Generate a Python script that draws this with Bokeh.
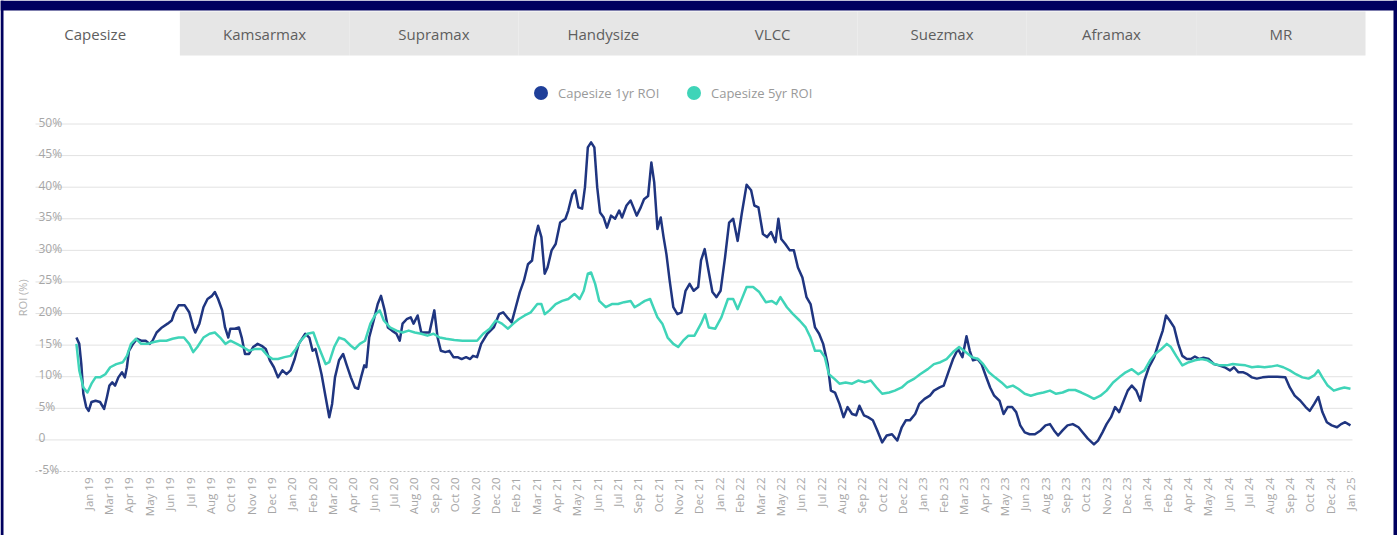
import math
from bokeh.plotting import figure
from bokeh.models import ColumnDataSource, Range1d, Legend, LegendItem
from bokeh.core.properties import value
from bokeh.embed import file_html
from bokeh.resources import INLINE

# ---------------- data ----------------
tabs = ["Capesize", "Kamsarmax", "Supramax", "Handysize", "VLCC", "Suezmax", "Aframax", "MR"]
active_tab = "Capesize"

series_names = ["Capesize 1yr ROI", "Capesize 5yr ROI"]
y_axis_title = "ROI (%)"

# weekly series: x = week number (week 0 = first observation, Jan 2019)
x_tick_labels = [
    "Jan 19", "Mar 19", "Apr 19", "May 19", "Jun 19", "Jul 19", "Aug 19", "Oct 19", "Nov 19", "Dec 19",
    "Jan 20", "Feb 20", "Mar 20", "Apr 20", "Jun 20", "Jul 20", "Aug 20", "Sep 20", "Oct 20", "Nov 20", "Dec 20",
    "Feb 21", "Mar 21", "Apr 21", "May 21", "Jun 21", "Jul 21", "Sep 21", "Oct 21", "Nov 21", "Dec 21",
    "Jan 22", "Feb 22", "Mar 22", "May 22", "Jun 22", "Jul 22", "Aug 22", "Sep 22", "Oct 22", "Dec 22",
    "Jan 23", "Feb 23", "Mar 23", "Apr 23", "May 23", "Jun 23", "Aug 23", "Sep 23", "Oct 23", "Nov 23", "Dec 23",
    "Jan 24", "Feb 24", "Apr 24", "May 24", "Jun 24", "Jul 24", "Aug 24", "Sep 24", "Oct 24", "Dec 24", "Jan 25",
]
first_tick_week = 3
tick_step_weeks = 5

y_ticks = [-5, 0, 5, 10, 15, 20, 25, 30, 35, 40, 45, 50]
y_tick_labels = ["-5%", "0", "5%", "10%", "15%", "20%", "25%", "30%", "35%", "40%", "45%", "50%"]

roi_1yr_week = [
    0.1, 0.8, 1.3, 1.8, 2.5, 3.1, 3.8, 4.8, 5.9, 6.9, 7.6, 8.2, 8.9, 9.6, 10.4, 11.3, 12.0, 12.5, 13.0, 14.0,
    15.0, 16.0, 17.1, 18.1, 18.8, 19.8, 21.1, 22.5, 23.5, 24.2, 25.2, 26.7, 27.8, 28.8, 29.3, 30.3, 31.3, 32.3,
    33.4, 34.1, 34.9, 35.9, 36.6, 37.4, 37.9, 39.0, 40.0, 40.7, 41.5, 42.5, 43.5, 44.6, 45.6, 46.6, 47.6, 48.6,
    49.6, 50.7, 51.7, 52.7, 53.7, 54.7, 56.3, 57.3, 58.1, 58.8, 59.5, 60.3, 61.3, 62.2, 62.9, 63.6, 64.6, 65.6,
    66.4, 67.5, 68.5, 69.3, 70.0, 70.8, 71.3, 72.0, 73.1, 74.1, 74.9, 75.8, 76.6, 77.6, 78.7, 79.5, 80.2, 81.2,
    82.2, 82.9, 83.9, 84.8, 85.8, 86.8, 88.0, 88.8, 89.6, 90.7, 91.7, 92.7, 93.7, 94.7, 95.8, 96.8, 97.5, 98.5,
    99.5, 101.0, 102.6, 103.9, 104.9, 105.9, 107.0, 108.0, 109.0, 110.0, 111.0, 112.0, 112.8, 113.5, 114.3,
    115.1, 115.8, 116.8, 117.8, 118.9, 120.2, 120.9, 121.9, 122.6, 123.4, 124.3, 125.0, 125.7, 126.5, 127.3,
    128.0, 128.7, 129.6, 130.4, 131.4, 132.4, 133.4, 134.1, 135.2, 136.2, 136.9, 137.7, 138.7, 139.5, 140.5,
    141.3, 142.0, 142.8, 143.6, 144.3, 145.0, 145.8, 146.7, 147.7, 148.7, 149.7, 150.7, 151.7, 152.8, 153.5,
    154.4, 155.2, 156.3, 157.3, 158.3, 159.4, 160.4, 161.4, 162.5, 163.5, 164.7, 165.8, 166.6, 167.6, 168.7,
    169.7, 170.7, 171.8, 172.5, 173.2, 174.2, 175.3, 176.3, 177.3, 178.4, 179.4, 180.4, 181.5, 182.5, 183.5,
    184.6, 185.4, 186.4, 187.5, 188.5, 189.5, 190.6, 191.6, 192.4, 193.5, 194.5, 195.7, 196.8, 198.0, 199.1,
    200.4, 201.7, 202.8, 203.8, 204.8, 206.1, 207.1, 208.4, 209.7, 210.7, 212.1, 213.1, 214.4, 215.4, 216.6,
    217.7, 218.7, 219.5, 220.3, 221.4, 222.4, 223.4, 224.5, 225.5, 226.8, 227.8, 228.8, 229.9, 230.9, 231.9,
    233.0, 234.2, 235.5, 236.9, 238.1, 239.2, 240.2, 241.2, 242.3, 243.5, 244.8, 246.2, 247.2, 248.5, 250.0,
    251.0, 252.1, 253.1, 254.2, 255.2, 256.2, 257.3, 258.3, 259.3, 260.4, 261.4, 262.4, 263.5, 264.8, 265.8,
    266.9, 267.7, 268.6, 269.7, 270.7, 271.7, 272.8, 273.8, 274.8, 275.9, 276.9, 278.2, 279.5, 280.7, 282.1,
    283.4, 284.4, 285.5, 286.7, 287.7, 288.8, 290.0, 291.4, 292.9, 295.0, 297.0, 298.1, 299.3, 300.7, 302.0,
    303.0, 304.1, 305.1, 306.1, 307.2, 308.4, 309.7, 310.7, 311.7, 313.0,
]
roi_1yr = [
    16.2, 15.2, 12.0, 7.3, 5.2, 4.6, 6.0, 6.2, 6.0, 4.9, 6.8, 8.6, 9.1, 8.6, 9.9, 10.7, 9.9, 11.5, 14.1, 15.2,
    16.0, 15.7, 15.7, 15.2, 15.7, 17.0, 17.8, 18.4, 18.9, 20.2, 21.3, 21.3, 20.2, 17.8, 17.0, 18.4, 21.0, 22.3,
    22.8, 23.4, 22.3, 20.5, 17.8, 16.2, 17.6, 17.6, 17.8, 16.2, 13.6, 13.6, 14.7, 15.2, 14.9, 14.4, 12.6, 11.5,
    9.9, 11.0, 10.4, 11.0, 12.8, 15.2, 16.8, 16.2, 14.1, 14.4, 12.6, 10.4, 6.8, 3.6, 5.7, 9.9, 12.6, 13.6,
    12.0, 9.9, 8.3, 8.1, 9.9, 11.8, 11.5, 16.2, 18.9, 21.5, 22.8, 20.5, 17.8, 17.3, 16.8, 15.7, 18.4, 19.1,
    19.4, 18.4, 19.7, 17.0, 17.0, 17.0, 20.5, 16.2, 14.1, 13.9, 14.1, 13.1, 13.1, 12.8, 13.1, 12.8, 13.3, 13.1,
    15.2, 16.8, 17.8, 19.9, 20.2, 19.4, 18.6, 21.0, 23.4, 25.2, 27.8, 28.4, 32.1, 33.9, 32.1,
    26.3, 27.3, 30.0, 31.0, 34.4, 35.0, 36.3, 38.9, 39.5, 36.8, 36.6, 40.0, 46.3, 47.1, 46.3,
    40.0, 36.0, 35.2, 33.6, 35.5, 35.0, 36.3, 35.2, 37.1, 37.9, 36.8, 35.5, 36.8, 38.1, 38.6,
    43.9, 40.8, 33.4, 35.2, 32.1, 29.4, 25.2, 21.0, 19.9, 20.2, 23.6, 24.7, 23.6, 24.2, 28.4,
    30.2, 27.3, 23.4, 22.6, 23.6, 28.9, 34.4, 35.0, 31.5, 35.8, 40.4, 39.5, 37.1, 36.8, 32.6,
    32.1, 32.9, 31.3, 35.0, 31.8, 31.0, 30.0, 30.0, 27.3, 25.7, 22.6, 21.5, 17.8, 16.8, 15.2,
    12.0, 7.8, 7.5, 5.7, 3.6, 5.2, 4.1, 3.9, 5.4, 3.9, 3.6, 3.1, 1.5, -0.4, 0.7,
    0.9, -0.1, 2.0, 3.1, 3.1, 4.1, 5.7, 6.5, 7.0, 7.8, 8.3, 8.6, 11.0, 12.8, 14.4,
    13.1, 16.4, 14.1, 12.6, 12.8, 12.0, 10.2, 8.3, 7.0, 6.2, 4.1, 5.2, 5.2, 4.4, 2.3,
    1.2, 0.9, 0.9, 1.5, 2.3, 2.5, 1.5, 0.7, 1.5, 2.3, 2.5, 2.0, 1.2, 0.2, -0.7,
    -0.1, 1.2, 2.5, 3.6, 5.2, 4.4, 6.2, 7.8, 8.6, 7.8, 6.2, 9.4, 11.5, 13.1, 15.2,
    17.3, 19.7, 18.9, 17.8, 15.2, 13.3, 12.8, 12.8, 13.2, 12.8, 13.0, 12.8, 12.0, 11.8, 11.5,
    11.0, 11.5, 10.7, 10.7, 10.4, 9.9, 9.7, 9.9, 10.0, 10.0, 9.9, 8.3, 7.0, 6.2, 5.2,
    4.6, 5.7, 6.8, 4.4, 2.8, 2.3, 2.0, 2.5, 2.8, 2.3,
]

roi_5yr_week = [
    0.1, 0.8, 1.8, 2.8, 3.8, 4.8, 5.9, 7.2, 8.4, 9.9, 11.5, 12.5, 13.5, 14.7, 16.0, 17.6, 19.1, 20.6, 22.2, 23.7,
    25.2, 26.5, 27.8, 28.8, 29.8, 31.3, 32.8, 34.1, 35.4, 36.7, 37.9, 39.5, 41.0, 42.5, 44.0, 45.6, 47.1, 48.3,
    49.6, 51.2, 52.7, 54.0, 55.2, 56.8, 58.3, 59.3, 60.3, 61.3, 62.2, 63.4, 64.6, 65.9, 67.5, 68.5, 69.7, 71.0,
    72.3, 73.6, 74.6, 75.6, 77.1, 78.7, 80.2, 81.7, 83.2, 84.8, 86.3, 87.8, 89.3, 90.9, 92.9, 94.9, 97.0, 98.5,
    100.0, 101.6, 103.1, 104.6, 106.1, 107.4, 108.7, 110.2, 111.7, 113.3, 114.3, 115.1, 116.3, 117.8, 119.4,
    120.9, 122.4, 123.7, 124.7, 125.7, 126.5, 127.5, 128.5, 130.1, 131.6, 133.1, 134.6, 136.2, 137.2, 138.5,
    139.7, 141.0, 141.8, 142.8, 144.0, 145.3, 146.7, 147.9, 149.1, 150.4, 151.9, 153.5, 154.5, 155.4, 157.0,
    158.5, 160.1, 161.4, 162.5, 163.7, 164.7, 166.3, 167.8, 169.4, 170.9, 172.0, 173.0, 174.6, 176.1, 177.7,
    179.2, 180.4, 181.5, 182.8, 183.9, 184.9, 186.2, 187.5, 189.0, 190.6, 192.1, 193.7, 195.2, 196.6, 198.0,
    199.7, 201.1, 202.8, 204.2, 205.9, 207.3, 209.2, 210.7, 212.3, 213.8, 215.4, 216.9, 218.5, 220.0, 221.6,
    222.8, 224.2, 225.7, 227.3, 228.6, 230.1, 231.4, 233.0, 234.5, 236.1, 237.6, 239.2, 240.7, 242.3, 243.8,
    245.4, 246.9, 248.5, 250.0, 251.6, 253.1, 254.7, 256.2, 257.8, 259.3, 260.9, 262.4, 263.8, 265.0, 266.6,
    267.9, 268.9, 270.2, 271.7, 273.3, 274.8, 276.4, 277.9, 279.5, 281.0, 282.6, 284.1, 285.7, 287.2, 288.8,
    290.3, 291.9, 293.4, 295.0, 296.5, 298.1, 299.6, 301.2, 302.7, 304.1, 305.1, 306.1, 307.4, 308.9, 310.3,
    311.5, 313.0,
]
roi_5yr = [
    15.2, 11.0, 8.3, 7.5, 8.9, 9.9, 9.9, 10.4, 11.5, 12.0, 12.3, 13.3, 15.2, 16.0, 15.2, 15.2, 15.5, 15.7, 15.7, 16.0,
    16.2, 16.2, 15.2, 13.9, 14.7, 16.2, 16.8, 17.0, 16.2, 15.2, 15.7, 15.2, 14.7, 14.1, 14.4, 14.4, 13.3, 12.8,
    12.8, 13.1, 13.3, 14.4, 15.7, 16.8, 17.0, 15.2, 13.6, 12.0, 12.3, 14.7, 16.2, 15.9, 14.9, 14.4, 15.2, 15.7,
    18.4, 19.9, 20.5, 18.9, 17.8, 17.3, 17.0, 17.3, 17.0, 16.8, 16.5, 16.8, 16.2, 16.0, 15.8, 15.7, 15.7, 15.7,
    16.8, 17.6, 18.9, 18.4, 17.6, 18.4, 19.1, 19.7, 20.2, 21.5, 21.5, 19.9, 20.5, 21.5, 22.0,
    22.3, 23.1, 22.3, 23.6, 26.3, 26.5, 24.7, 22.0, 21.0, 21.5, 21.5, 21.8, 22.0, 21.0, 21.5,
    22.0, 22.3, 21.0, 19.4, 18.4, 16.2, 15.2, 14.7, 15.7, 16.5, 16.5, 18.4, 19.9, 17.8, 17.6,
    19.4, 22.3, 22.3, 20.7, 22.6, 24.2, 24.2, 23.4, 21.8, 22.0, 21.5, 22.6, 21.0, 19.9, 18.9,
    17.8, 16.2, 14.1, 14.1, 13.1, 10.4, 9.7, 8.9, 9.1, 8.9, 9.4, 9.1, 9.4, 8.3, 7.3,
    7.5, 7.8, 8.3, 9.1, 9.7, 10.4, 11.2, 12.0, 12.3, 12.8, 13.9, 14.7, 13.9, 13.1, 12.8,
    12.0, 10.7, 9.9, 9.1, 8.3, 8.6, 8.1, 7.3, 7.0, 7.3, 7.5, 7.8, 7.3, 7.5, 7.9,
    7.9, 7.5, 7.0, 6.5, 7.0, 7.8, 9.1, 9.9, 10.7, 11.2, 10.4, 11.0, 12.6, 13.6, 14.4,
    15.2, 14.7, 13.3, 11.8, 12.3, 12.6, 12.8, 12.6, 12.0, 11.8, 11.8, 12.0, 11.9, 11.8, 11.5,
    11.6, 11.5, 11.6, 11.8, 11.5, 11.0, 10.4, 9.9, 9.7, 10.2, 11.0, 9.9, 8.6, 7.8, 8.1,
    8.3, 8.1,
]

# ---------------- layout / style constants ----------------
W, H = 1397, 535
CHART_L, CHART_R = 35, 1352          # page px of the plotting area
CHART_T, CHART_B = 123.5, 471        # page px of y = 50 and y = -5
X_START, X_END = -9.95, 313.5         # weeks shown across the plotting area
Y_LO, Y_HI = -5, 50

NAVY = "#00005f"
C_1YR = "#1f3580"
C_1YR_DOT = "#1f3f99"
C_5YR = "#3fd4b8"
TXT_LIGHT = "#a6a6a6"
GRID = "#e2e2e2"
FONT = "Open Sans"
TAB_FONT = "Open Sans"

TOPBAR_H = 10
TAB_L, TAB_R, TAB_T, TAB_B = 10, 1365, 11, 55
BORDER_L, BORDER_R = 3, 4
LEGEND_X = [523, 676]      # page px of each legend entry's left edge
LEGEND_BOTTOM = 425        # px above the bottom of the page

px_x = (CHART_R - CHART_L) / (X_END - X_START)
px_y = (CHART_B - CHART_T) / (Y_HI - Y_LO)
x_range = Range1d(X_START - CHART_L / px_x, X_END + (W - CHART_R) / px_x)
y_range = Range1d(Y_LO - (H - CHART_B) / px_y, Y_HI + CHART_T / px_y)

p = figure(width=W, height=H, x_range=x_range, y_range=y_range,
           toolbar_location=None, output_backend="svg",
           x_axis_location=None, y_axis_location=None, outline_line_color=None,
           min_border=0, min_border_left=0, min_border_right=0, min_border_top=0, min_border_bottom=0,
           border_fill_color="white", background_fill_color="white")
p.grid.visible = False
# page-pixel ranges for the page chrome (navy frame, tabs)
p.extra_x_ranges = {"px": Range1d(0, W)}
p.extra_y_ranges = {"px": Range1d(H, 0)}

# ---- page chrome ----
p.quad(left=[0, 0, W - BORDER_R], right=[W, BORDER_L, W], top=[0, 0, 0], bottom=[TOPBAR_H, H, H],
       fill_color=NAVY, line_color=None, x_range_name="px", y_range_name="px")

tab_w = (TAB_R - TAB_L) / len(tabs)
tab_src = ColumnDataSource(dict(
    left=[TAB_L + i * tab_w for i in range(len(tabs))],
    right=[TAB_L + (i + 1) * tab_w for i in range(len(tabs))],
    cx=[TAB_L + (i + 0.5) * tab_w for i in range(len(tabs))],
    cy=[(TAB_T + TAB_B) / 2] * len(tabs),
    top=[TAB_T] * len(tabs),
    bottom=[TAB_B] * len(tabs),
    fill=["#ffffff" if t == active_tab else "#e6e6e6" for t in tabs],
    tab=tabs,
))
p.quad(left="left", right="right", top="top", bottom="bottom", fill_color="fill", line_color=None,
       source=tab_src, x_range_name="px", y_range_name="px")
p.text(x="cx", y="cy", text="tab", source=tab_src, text_align="center", text_baseline="middle",
       text_font=value(TAB_FONT), text_font_size="15px", text_color="#5e5e5e",
       x_range_name="px", y_range_name="px")

# ---- grid lines and dotted axis line ----
grid_ticks = [t for t in y_ticks if t > Y_LO]
p.segment(x0=[X_START] * len(grid_ticks), x1=[X_END] * len(grid_ticks), y0=grid_ticks, y1=grid_ticks,
          line_color=GRID, line_width=1)
p.segment(x0=[X_START], x1=[X_END], y0=[Y_LO], y1=[Y_LO], line_color="#c4c4c4", line_width=1,
          line_dash="2 2")

# ---- y tick labels (above each grid line) ----
ylab_src = ColumnDataSource(dict(x=[X_START] * len(y_ticks), y=y_ticks, text=y_tick_labels))
p.text(x="x", y="y", text="text", source=ylab_src, x_offset=3, y_offset=-2,
       text_align="left", text_baseline="alphabetic", text_font=value(FONT),
       text_font_size="12px", text_color=TXT_LIGHT)

# ---- y axis title ----
p.text(x=[X_START], y=[(Y_LO + Y_HI) / 2], text=[y_axis_title], x_offset=-13, angle=math.pi / 2,
       text_align="center", text_baseline="middle", text_font=value(FONT),
       text_font_size="11px", text_color="#b0b0b0")

# ---- x tick labels (vertical) ----
tick_weeks = [first_tick_week + tick_step_weeks * i for i in range(len(x_tick_labels))]
xlab_src = ColumnDataSource(dict(x=tick_weeks, y=[Y_LO] * len(tick_weeks), text=x_tick_labels))
p.text(x="x", y="y", text="text", source=xlab_src, angle=math.pi / 2, y_offset=6,
       text_align="right", text_baseline="middle", text_font=value(FONT),
       text_font_size="11.5px", text_color=TXT_LIGHT)

# ---- series ----
r1 = p.line(roi_1yr_week, roi_1yr, line_color=C_1YR, line_width=2.5, line_join="round")
r5 = p.line(roi_5yr_week, roi_5yr, line_color=C_5YR, line_width=2.5, line_join="round")

# circle markers used only as legend symbols
m1 = p.scatter(roi_1yr_week, roi_1yr, marker="circle", size=14, fill_color=C_1YR_DOT, line_color=None)
m5 = p.scatter(roi_5yr_week, roi_5yr, marker="circle", size=14, fill_color=C_5YR, line_color=None)
m1.visible = False
m5.visible = False

for name, marker, lx in zip(series_names, [m1, m5], LEGEND_X):
    lg = Legend(items=[LegendItem(label=name, renderers=[marker])],
                orientation="horizontal", location=(lx, LEGEND_BOTTOM),
                glyph_width=35, glyph_height=35, label_standoff=0, spacing=0,
                padding=0, margin=0, border_line_color=None, background_fill_alpha=0,
                label_text_font=FONT, label_text_font_size="13px", label_text_color="#9a9a9a")
    p.add_layout(lg, "center")

open("out.html", "w").write(file_html(p, INLINE))
